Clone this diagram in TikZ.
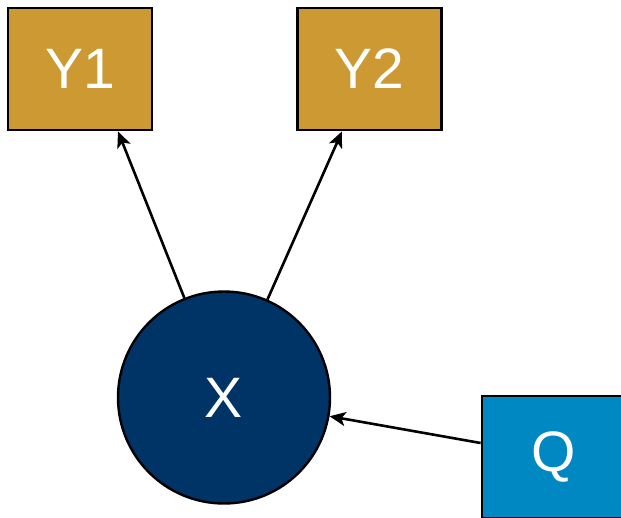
\documentclass[tikz,border=0pt]{standalone}
\usepackage{fontspec}
\setmainfont{Liberation Sans}
\usetikzlibrary{arrows.meta,calc}
\definecolor{gold}{RGB}{204,153,51}
\definecolor{navy}{RGB}{0,51,102}
\definecolor{qblue}{RGB}{0,136,194}
\tikzset{
  gbox/.style={draw=black,line width=2.8pt,fill=gold,minimum width=144pt,minimum height=122pt,text=white,font=\fontsize{57}{60}\selectfont,inner sep=0pt},
  qbox/.style={draw=black,line width=2.8pt,fill=qblue,minimum width=144pt,minimum height=122pt,text=white,font=\fontsize{57}{60}\selectfont,inner sep=0pt},
  xcirc/.style={circle,draw=black,line width=2.4pt,fill=navy,minimum size=212pt,text=white,font=\fontsize{57}{60}\selectfont,inner sep=0pt},
  arr/.style={line width=2.6pt,-{Stealth[length=16pt,width=14pt,inset=4pt]}}
}
\begin{document}
\begin{tikzpicture}[x=1pt,y=-1pt]
\useasboundingbox (0,0) rectangle (621,517);
\fill[white] (0,0) rectangle (621,517);
\node[gbox] (Y1) at (80,69) {Y1};
\node[gbox] (Y2) at (369.5,69) {Y2};
\node[xcirc] (X) at (224,397.5) {X};
\node[qbox] (Q) at (554,457) {Q};
\coordinate (y1end) at ($(Y1.south)+(38,0)$);
\coordinate (y2end) at ($(Y2.south)+(-27.5,0)$);
\coordinate (qstart) at ($(Q.west)+(0,-14)$);
\draw[arr] (X) -- (y1end);
\draw[arr] (X) -- (y2end);
\draw[arr] (qstart) -- (X);
\end{tikzpicture}
\end{document}
